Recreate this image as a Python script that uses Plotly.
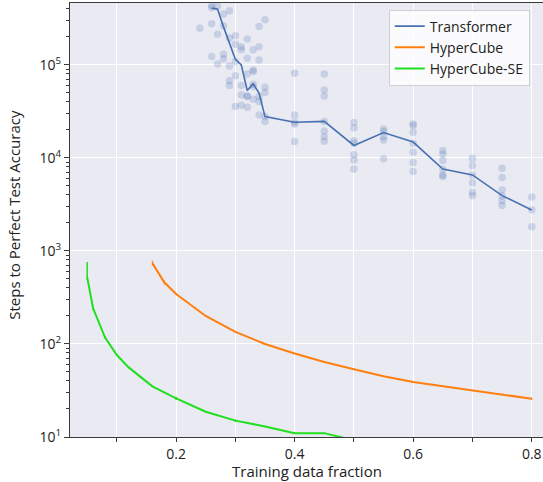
import plotly.graph_objects as go

# ---------------- data ----------------
# Transformer individual runs (scatter)
tf_runs_x = (
    [0.24]
    + [0.26] * 4
    + [0.27] * 3
    + [0.28] * 4
    + [0.29] * 5
    + [0.30] * 5
    + [0.31] * 5
    + [0.32] * 6
    + [0.33] * 6
    + [0.34] * 6
    + [0.35] * 5
    + [0.40] * 5
    + [0.45] * 7
    + [0.50] * 7
    + [0.55] * 5
    + [0.60] * 7
    + [0.65] * 6
    + [0.70] * 6
    + [0.75] * 6
    + [0.80] * 3
)
tf_runs_y = [
    248000,
    431000, 410000, 276000, 123000,
    430000, 214000, 102000,
    353000, 263000, 130000, 116000,
    381000, 194000, 97500, 67300, 59900,
    205000, 167000, 108000, 76200, 35600,
    157000, 145000, 59900, 47600, 36900,
    190000, 118000, 80000, 46400, 45700, 35100,
    145000, 88300, 85000, 62000, 58400, 42800,
    258000, 157000, 113000, 45600, 40300, 29000,
    305000, 57600, 50400, 27800, 24600,
    81500, 29000, 24200, 23200, 15000,
    80000, 53800, 46400, 24600, 19500, 16900, 15100,
    24000, 20900, 15300, 14400, 10800, 9520, 7620,
    20400, 19200, 16900, 15600, 9820,
    23200, 22300, 18900, 14400, 11500, 8900, 7120,
    12000, 11000, 9360, 7560, 6560, 6300,
    9930, 8270, 6560, 5420, 4280, 3930,
    7750, 6140, 4530, 3900, 3470, 3070,
    3810, 2760, 1820,
]

# Transformer mean curve
tf_x = [0.26, 0.27, 0.28, 0.29, 0.30, 0.31, 0.32, 0.33, 0.34, 0.35,
        0.40, 0.45, 0.50, 0.55, 0.60, 0.65, 0.70, 0.75, 0.80]
tf_y = [407000, 397000, 256000, 172000, 115000, 100000, 53000, 62500, 49700, 27800,
        24200, 24700, 13600, 18700, 14800, 7600, 6560, 3930, 2760]

# HyperCube
hc_x = [0.16, 0.18, 0.20, 0.25, 0.30, 0.35, 0.40, 0.45, 0.50, 0.55,
        0.60, 0.65, 0.70, 0.75, 0.80]
hc_y = [740, 460, 345, 200, 135, 100, 79, 64, 53.5, 45,
        39, 35.3, 31.5, 29, 25.8]
hc_err = [45, 25, 5, 3, 2, 1, 1, 1, 0.5, 0.5, 0.5, 0.5, 0.4, 0.4, 0.8]

# HyperCube-SE
se_x = [0.05, 0.06, 0.08, 0.10, 0.12, 0.14, 0.16, 0.20, 0.25, 0.30,
        0.35, 0.40, 0.45, 0.50]
se_y = [520, 242, 118, 76, 56, 44, 35, 26, 18.7, 15,
        13, 11, 11, 9.2]
se_err_plus = [240, 12, 4, 1, 1, 1, 0.5, 1, 0.3, 0.5, 0.2, 0.2, 0.2, 0.2]
se_err_minus = [30, 12, 4, 1, 1, 1, 0.5, 1, 0.3, 0.5, 0.2, 0.2, 0.2, 0.2]

x_tickvals = [0.2, 0.4, 0.6, 0.8]
x_ticktext = ["0.2", "0.4", "0.6", "0.8"]
x_minorvals = [0.1, 0.3, 0.5, 0.7]
y_tickvals = [10, 100, 1000, 10000, 100000]
y_ticktext = ["10<sup>1</sup>", "10<sup>2</sup>", "10<sup>3</sup>",
              "10<sup>4</sup>", "10<sup>5</sup>"]
x_title = "Training data fraction"
y_title = "Steps to Perfect Test Accuracy"

# ---------------- style ----------------
BLUE = "#4671b2"
ORANGE = "#ff7f0e"
GREEN = "#1fdf1f"
FONT = "Open Sans"
SPINE = "#3a3a3a"

fig = go.Figure()

fig.add_trace(go.Scatter(
    x=tf_runs_x, y=tf_runs_y, mode="markers",
    marker=dict(size=7.5, color="rgba(76,114,176,0.22)",
                line=dict(width=0)),
    showlegend=False, hoverinfo="skip",
))

fig.add_trace(go.Scatter(
    x=tf_x, y=tf_y, mode="lines", name="Transformer",
    line=dict(color=BLUE, width=1.6),
))

fig.add_trace(go.Scatter(
    x=hc_x, y=hc_y, mode="lines", name="HyperCube",
    line=dict(color=ORANGE, width=2),
    error_y=dict(type="data", array=hc_err, color=ORANGE, thickness=1, width=0),
))

fig.add_trace(go.Scatter(
    x=se_x, y=se_y, mode="lines", name="HyperCube-SE",
    line=dict(color=GREEN, width=2),
    error_y=dict(type="data", symmetric=False, array=se_err_plus,
                 arrayminus=se_err_minus, color=GREEN, thickness=1.5, width=0),
))

y_minorvals = [m * 10 ** e for e in range(1, 6) for m in range(2, 10)]

fig.update_layout(
    width=543, height=482,
    margin=dict(l=70, r=0, t=3, b=45, autoexpand=False),
    paper_bgcolor="white",
    plot_bgcolor="#EAEAF2",
    font=dict(family=FONT, size=14, color="#222"),
    legend=dict(
        x=0.972, y=0.985, xanchor="right", yanchor="top",
        bgcolor="rgba(255,255,255,0.8)",
        bordercolor="#d0d0d0", borderwidth=1,
        font=dict(family=FONT, size=14, color="#222"),
        tracegroupgap=0, itemwidth=30,
    ),
    xaxis=dict(
        range=[0.021, 0.819], automargin=False,
        tickmode="array", tickvals=x_tickvals, ticktext=x_ticktext,
        ticks="outside", ticklen=4, tickcolor=SPINE, tickwidth=1,
        showgrid=True, gridcolor="white", gridwidth=1,
        minor=dict(tickmode="array", tickvals=x_minorvals, ticks="outside",
                   ticklen=4, tickcolor=SPINE, tickwidth=1,
                   showgrid=True, gridcolor="white", gridwidth=1),
        zeroline=False,
        showline=True, linecolor=SPINE, linewidth=1.3, mirror=True,
        tickfont=dict(size=14),
    ),
    yaxis=dict(
        type="log", range=[1, 5.665], automargin=False,
        tickmode="array", tickvals=y_tickvals, ticktext=y_ticktext,
        ticks="outside", ticklen=5, tickcolor=SPINE, tickwidth=1,
        showgrid=True, gridcolor="white", gridwidth=1,
        zeroline=False,
        showline=True, linecolor=SPINE, linewidth=1.3, mirror=True,
        minor=dict(tickmode="array", tickvals=y_minorvals, ticks="outside",
                   ticklen=3, tickwidth=1, tickcolor=SPINE, showgrid=False),
        tickfont=dict(size=14),
    ),
    annotations=[
        dict(text=x_title, xref="paper", yref="paper", x=0.5, y=-0.079,
             xanchor="center", yanchor="middle", showarrow=False,
             font=dict(family=FONT, size=15, color="#222")),
        dict(text=y_title, xref="paper", yref="paper", x=-0.1184, y=0.512,
             xanchor="center", yanchor="middle", showarrow=False, textangle=-90,
             font=dict(family=FONT, size=15, color="#222")),
    ],
)

fig.write_html("out.html", config={"displayModeBar": False},
               post_script="document.body.style.margin='0px';")
